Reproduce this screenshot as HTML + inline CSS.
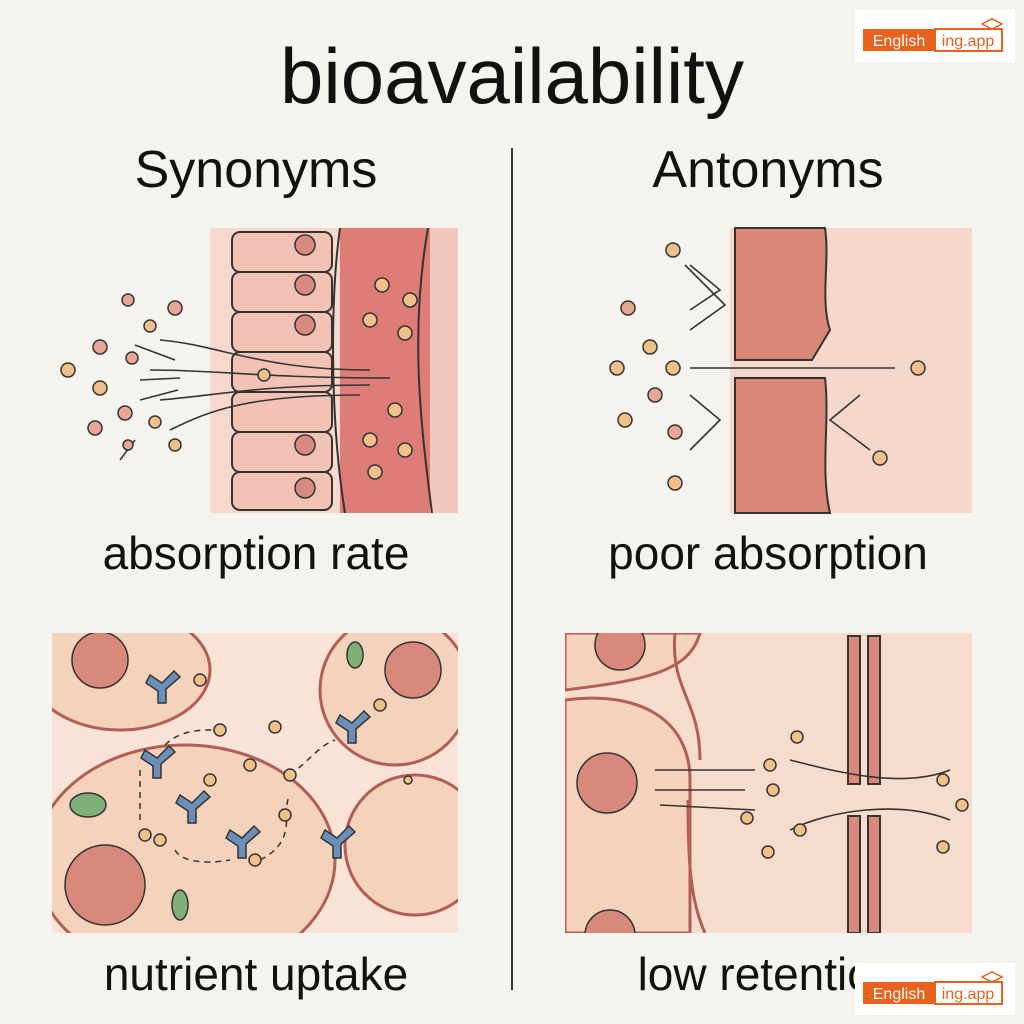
<!DOCTYPE html>
<html><head><meta charset="utf-8"><style>
html,body{margin:0;padding:0;background:#f4f3ee;}
svg{display:block}
text{font-family:"Liberation Sans",sans-serif;fill:#111}
</style></head><body>
<svg width="1024" height="1024" viewBox="0 0 1024 1024" xmlns="http://www.w3.org/2000/svg">
<defs>
<clipPath id="cbl"><rect x="52" y="633" width="406" height="300"/></clipPath>
<clipPath id="cbr"><rect x="565" y="633" width="407" height="300"/></clipPath>
</defs>
<rect width="1024" height="1024" fill="#f4f3ee"/>
<text x="512" y="103" font-size="78" text-anchor="middle">bioavailability</text>
<text x="256" y="187" font-size="52" text-anchor="middle">Synonyms</text>
<text x="768" y="187" font-size="52" text-anchor="middle">Antonyms</text>

<!-- TL panel -->
<rect x="210" y="228" width="248" height="285" fill="#f6d9cc"/>
<rect x="340" y="228" width="90" height="285" fill="#de7c78"/>
<rect x="430" y="228" width="28" height="285" fill="#f3c9bd"/>
<g fill="#f2c2b4" stroke="#333" stroke-width="2">
<rect x="232" y="232" width="100" height="40" rx="8"/>
<rect x="232" y="272" width="100" height="40" rx="8"/>
<rect x="232" y="312" width="100" height="40" rx="8"/>
<rect x="232" y="352" width="100" height="40" rx="8"/>
<rect x="232" y="392" width="100" height="40" rx="8"/>
<rect x="232" y="432" width="100" height="40" rx="8"/>
<rect x="232" y="472" width="100" height="38" rx="8"/>
</g>
<g fill="#d98a80" stroke="#333" stroke-width="1.5">
<circle cx="305" cy="245" r="10"/><circle cx="305" cy="285" r="10"/><circle cx="305" cy="325" r="10"/><circle cx="305" cy="445" r="10"/><circle cx="305" cy="488" r="10"/>
</g>
<path d="M340 228 C330 300 330 420 345 513 M428 228 C410 330 420 420 432 513" stroke="#333" stroke-width="2" fill="none"/>
<g fill="none" stroke="#333" stroke-width="1.6">
<path d="M160 340 C220 345 260 370 370 370"/><path d="M150 370 C220 370 260 378 390 378"/><path d="M160 400 C220 395 260 385 370 385"/><path d="M170 430 C210 410 250 395 360 395"/>
<path d="M135 345 L175 360"/><path d="M140 380 L180 378"/><path d="M140 400 L178 390"/><path d="M120 460 L135 440"/>
</g>
<g stroke="#333" stroke-width="1.5">
<circle cx="128" cy="300" r="6" fill="#e8a795"/><circle cx="175" cy="308" r="7" fill="#e8a795"/><circle cx="150" cy="326" r="6" fill="#f0c08a"/><circle cx="100" cy="347" r="7" fill="#e8a795"/><circle cx="68" cy="370" r="7" fill="#f0c08a"/><circle cx="132" cy="358" r="6" fill="#e8a795"/><circle cx="100" cy="388" r="7" fill="#f0c08a"/><circle cx="125" cy="413" r="7" fill="#e8a795"/><circle cx="155" cy="422" r="6" fill="#f0c08a"/><circle cx="95" cy="428" r="7" fill="#e8a795"/><circle cx="128" cy="445" r="5" fill="#e8a795"/><circle cx="175" cy="445" r="6" fill="#f0c08a"/><circle cx="264" cy="375" r="6" fill="#f0c08a"/>
<circle cx="382" cy="285" r="7" fill="#f0c08a"/><circle cx="410" cy="300" r="7" fill="#f0c08a"/><circle cx="370" cy="320" r="7" fill="#f0c08a"/><circle cx="405" cy="333" r="7" fill="#f0c08a"/><circle cx="395" cy="410" r="7" fill="#f0c08a"/><circle cx="370" cy="440" r="7" fill="#f0c08a"/><circle cx="405" cy="450" r="7" fill="#f0c08a"/><circle cx="375" cy="472" r="7" fill="#f0c08a"/>
</g>

<!-- TR panel -->
<rect x="730" y="228" width="242" height="285" fill="#f5d8cb"/>
<path d="M735 228 L825 228 C830 260 820 300 830 330 L812 360 L735 360 Z" fill="#d98877" stroke="#333" stroke-width="2"/>
<path d="M735 378 L825 378 C830 420 820 470 830 513 L735 513 Z" fill="#d98877" stroke="#333" stroke-width="2"/>
<g fill="none" stroke="#333" stroke-width="1.6">
<path d="M690 368 L895 368"/><path d="M690 310 L720 290 L690 265"/><path d="M690 330 L725 305 L685 265"/><path d="M690 395 L720 420 L690 450"/><path d="M870 450 L830 420 L860 395"/>
</g>
<g stroke="#333" stroke-width="1.5" fill="#f0c08a">
<circle cx="673" cy="250" r="7"/><circle cx="628" cy="308" r="7" fill="#e8a795"/><circle cx="650" cy="347" r="7"/><circle cx="617" cy="368" r="7"/><circle cx="673" cy="368" r="7"/><circle cx="655" cy="395" r="7" fill="#e8a795"/><circle cx="625" cy="420" r="7"/><circle cx="675" cy="432" r="7" fill="#e8a795"/><circle cx="675" cy="483" r="7"/><circle cx="918" cy="368" r="7"/><circle cx="880" cy="458" r="7"/>
</g>

<text x="256" y="569" font-size="46" text-anchor="middle">absorption rate</text>
<text x="768" y="569" font-size="46" text-anchor="middle">poor absorption</text>

<!-- BL panel -->
<g clip-path="url(#cbl)">
<rect x="52" y="633" width="406" height="300" fill="#f8e3d6"/>
<g stroke="#b05e56" stroke-width="3" fill="#f4d2bc">
<ellipse cx="120" cy="670" rx="90" ry="60"/>
<ellipse cx="185" cy="860" rx="150" ry="115"/>
<circle cx="395" cy="690" r="75"/>
<circle cx="415" cy="845" r="70"/>
</g>
<g fill="#d9897c" stroke="#333" stroke-width="1.5">
<circle cx="100" cy="660" r="28"/><circle cx="413" cy="670" r="28"/><circle cx="105" cy="885" r="40"/>
</g>
<g fill="#7fb07a" stroke="#333" stroke-width="1.5">
<ellipse cx="88" cy="805" rx="18" ry="12"/><ellipse cx="355" cy="655" rx="8" ry="13"/><ellipse cx="180" cy="905" rx="8" ry="15"/>
</g>
<g fill="#6b8fb8" stroke="#333" stroke-width="1.5">
<path d="M150 675 l12 8 l12-12 l6 6 l-14 12 l0 14 l-8 0 l0-12 l-12-8z"/><path d="M145 750 l12 8 l12-12 l6 6 l-14 12 l0 14 l-8 0 l0-12 l-12-8z"/><path d="M180 795 l12 8 l12-12 l6 6 l-14 12 l0 14 l-8 0 l0-12 l-12-8z"/><path d="M230 830 l12 8 l12-12 l6 6 l-14 12 l0 14 l-8 0 l0-12 l-12-8z"/><path d="M340 715 l12 8 l12-12 l6 6 l-14 12 l0 14 l-8 0 l0-12 l-12-8z"/><path d="M325 830 l12 8 l12-12 l6 6 l-14 12 l0 14 l-8 0 l0-12 l-12-8z"/>
</g>
<g fill="none" stroke="#333" stroke-width="1.5" stroke-dasharray="6 5">
<path d="M165 745 C180 730 200 730 215 730"/><path d="M140 770 L140 820"/><path d="M175 850 C180 860 200 865 230 860"/><path d="M260 860 C300 840 280 810 290 795"/><path d="M290 775 C310 760 320 745 335 740"/>
</g>
<g stroke="#333" stroke-width="1.5" fill="#f0c08a">
<circle cx="200" cy="680" r="6"/><circle cx="220" cy="730" r="6"/><circle cx="210" cy="780" r="6"/><circle cx="250" cy="765" r="6"/><circle cx="275" cy="727" r="6"/><circle cx="290" cy="775" r="6"/><circle cx="285" cy="815" r="6"/><circle cx="145" cy="835" r="6"/><circle cx="160" cy="840" r="6"/><circle cx="255" cy="860" r="6"/><circle cx="380" cy="705" r="6"/><circle cx="408" cy="780" r="4"/>
</g>
</g>

<!-- BR panel -->
<g clip-path="url(#cbr)">
<rect x="565" y="633" width="407" height="300" fill="#f6dccd"/>
<g fill="#f4d2bc" stroke="#b05e56" stroke-width="3">
<path d="M565 700 C640 690 690 720 690 780 L690 933 L565 933Z"/>
<path d="M565 633 L700 633 C690 670 650 680 565 690Z"/>
</g>
<path d="M675 633 C670 690 700 700 700 760 M688 800 C688 860 690 900 705 933" stroke="#b05e56" stroke-width="3" fill="none"/>
<g fill="#d9897c" stroke="#333" stroke-width="1.5">
<circle cx="607" cy="783" r="30"/><circle cx="620" cy="645" r="25"/><circle cx="610" cy="935" r="25"/>
</g>
<g fill="#d9897c" stroke="#333" stroke-width="2">
<rect x="848" y="636" width="12" height="148"/><rect x="868" y="636" width="12" height="148"/>
<rect x="848" y="816" width="12" height="117"/><rect x="868" y="816" width="12" height="117"/>
</g>
<g fill="none" stroke="#333" stroke-width="1.6">
<path d="M655 770 L755 770"/><path d="M655 790 L745 790"/><path d="M660 805 L755 810"/><path d="M790 760 C830 770 900 790 950 770"/><path d="M790 830 C830 810 900 800 950 820"/>
</g>
<g stroke="#333" stroke-width="1.5" fill="#f0c08a">
<circle cx="797" cy="737" r="6"/><circle cx="770" cy="765" r="6"/><circle cx="773" cy="790" r="6"/><circle cx="747" cy="818" r="6"/><circle cx="800" cy="830" r="6"/><circle cx="768" cy="852" r="6"/><circle cx="943" cy="780" r="6"/><circle cx="962" cy="805" r="6"/><circle cx="943" cy="847" r="6"/>
</g>
</g>

<line x1="512" y1="148" x2="512" y2="990" stroke="#333" stroke-width="2"/>

<text x="256" y="990" font-size="46" text-anchor="middle">nutrient uptake</text>
<text x="768" y="990" font-size="46" text-anchor="middle">low retention</text>

<!-- logos -->
<g>
<rect x="855" y="10" width="160" height="52" fill="#fff"/>
<rect x="863" y="29" width="72" height="22" fill="#e8621d"/>
<text x="899" y="46" font-size="16" text-anchor="middle" style="fill:#fff">English</text>
<rect x="935" y="29" width="67" height="22" fill="#fff" stroke="#e8621d" stroke-width="2"/>
<text x="968" y="46" font-size="16" text-anchor="middle" style="fill:#e8621d">ing.app</text>
<path d="M982 24 l10-5 l10 5 l-10 5z" fill="none" stroke="#e8621d" stroke-width="1.5"/>
</g>
<g>
<rect x="855" y="963" width="160" height="52" fill="#fff"/>
<rect x="863" y="982" width="72" height="22" fill="#e8621d"/>
<text x="899" y="999" font-size="16" text-anchor="middle" style="fill:#fff">English</text>
<rect x="935" y="982" width="67" height="22" fill="#fff" stroke="#e8621d" stroke-width="2"/>
<text x="968" y="999" font-size="16" text-anchor="middle" style="fill:#e8621d">ing.app</text>
<path d="M982 977 l10-5 l10 5 l-10 5z" fill="none" stroke="#e8621d" stroke-width="1.5"/>
</g>
</svg>
</body></html>
